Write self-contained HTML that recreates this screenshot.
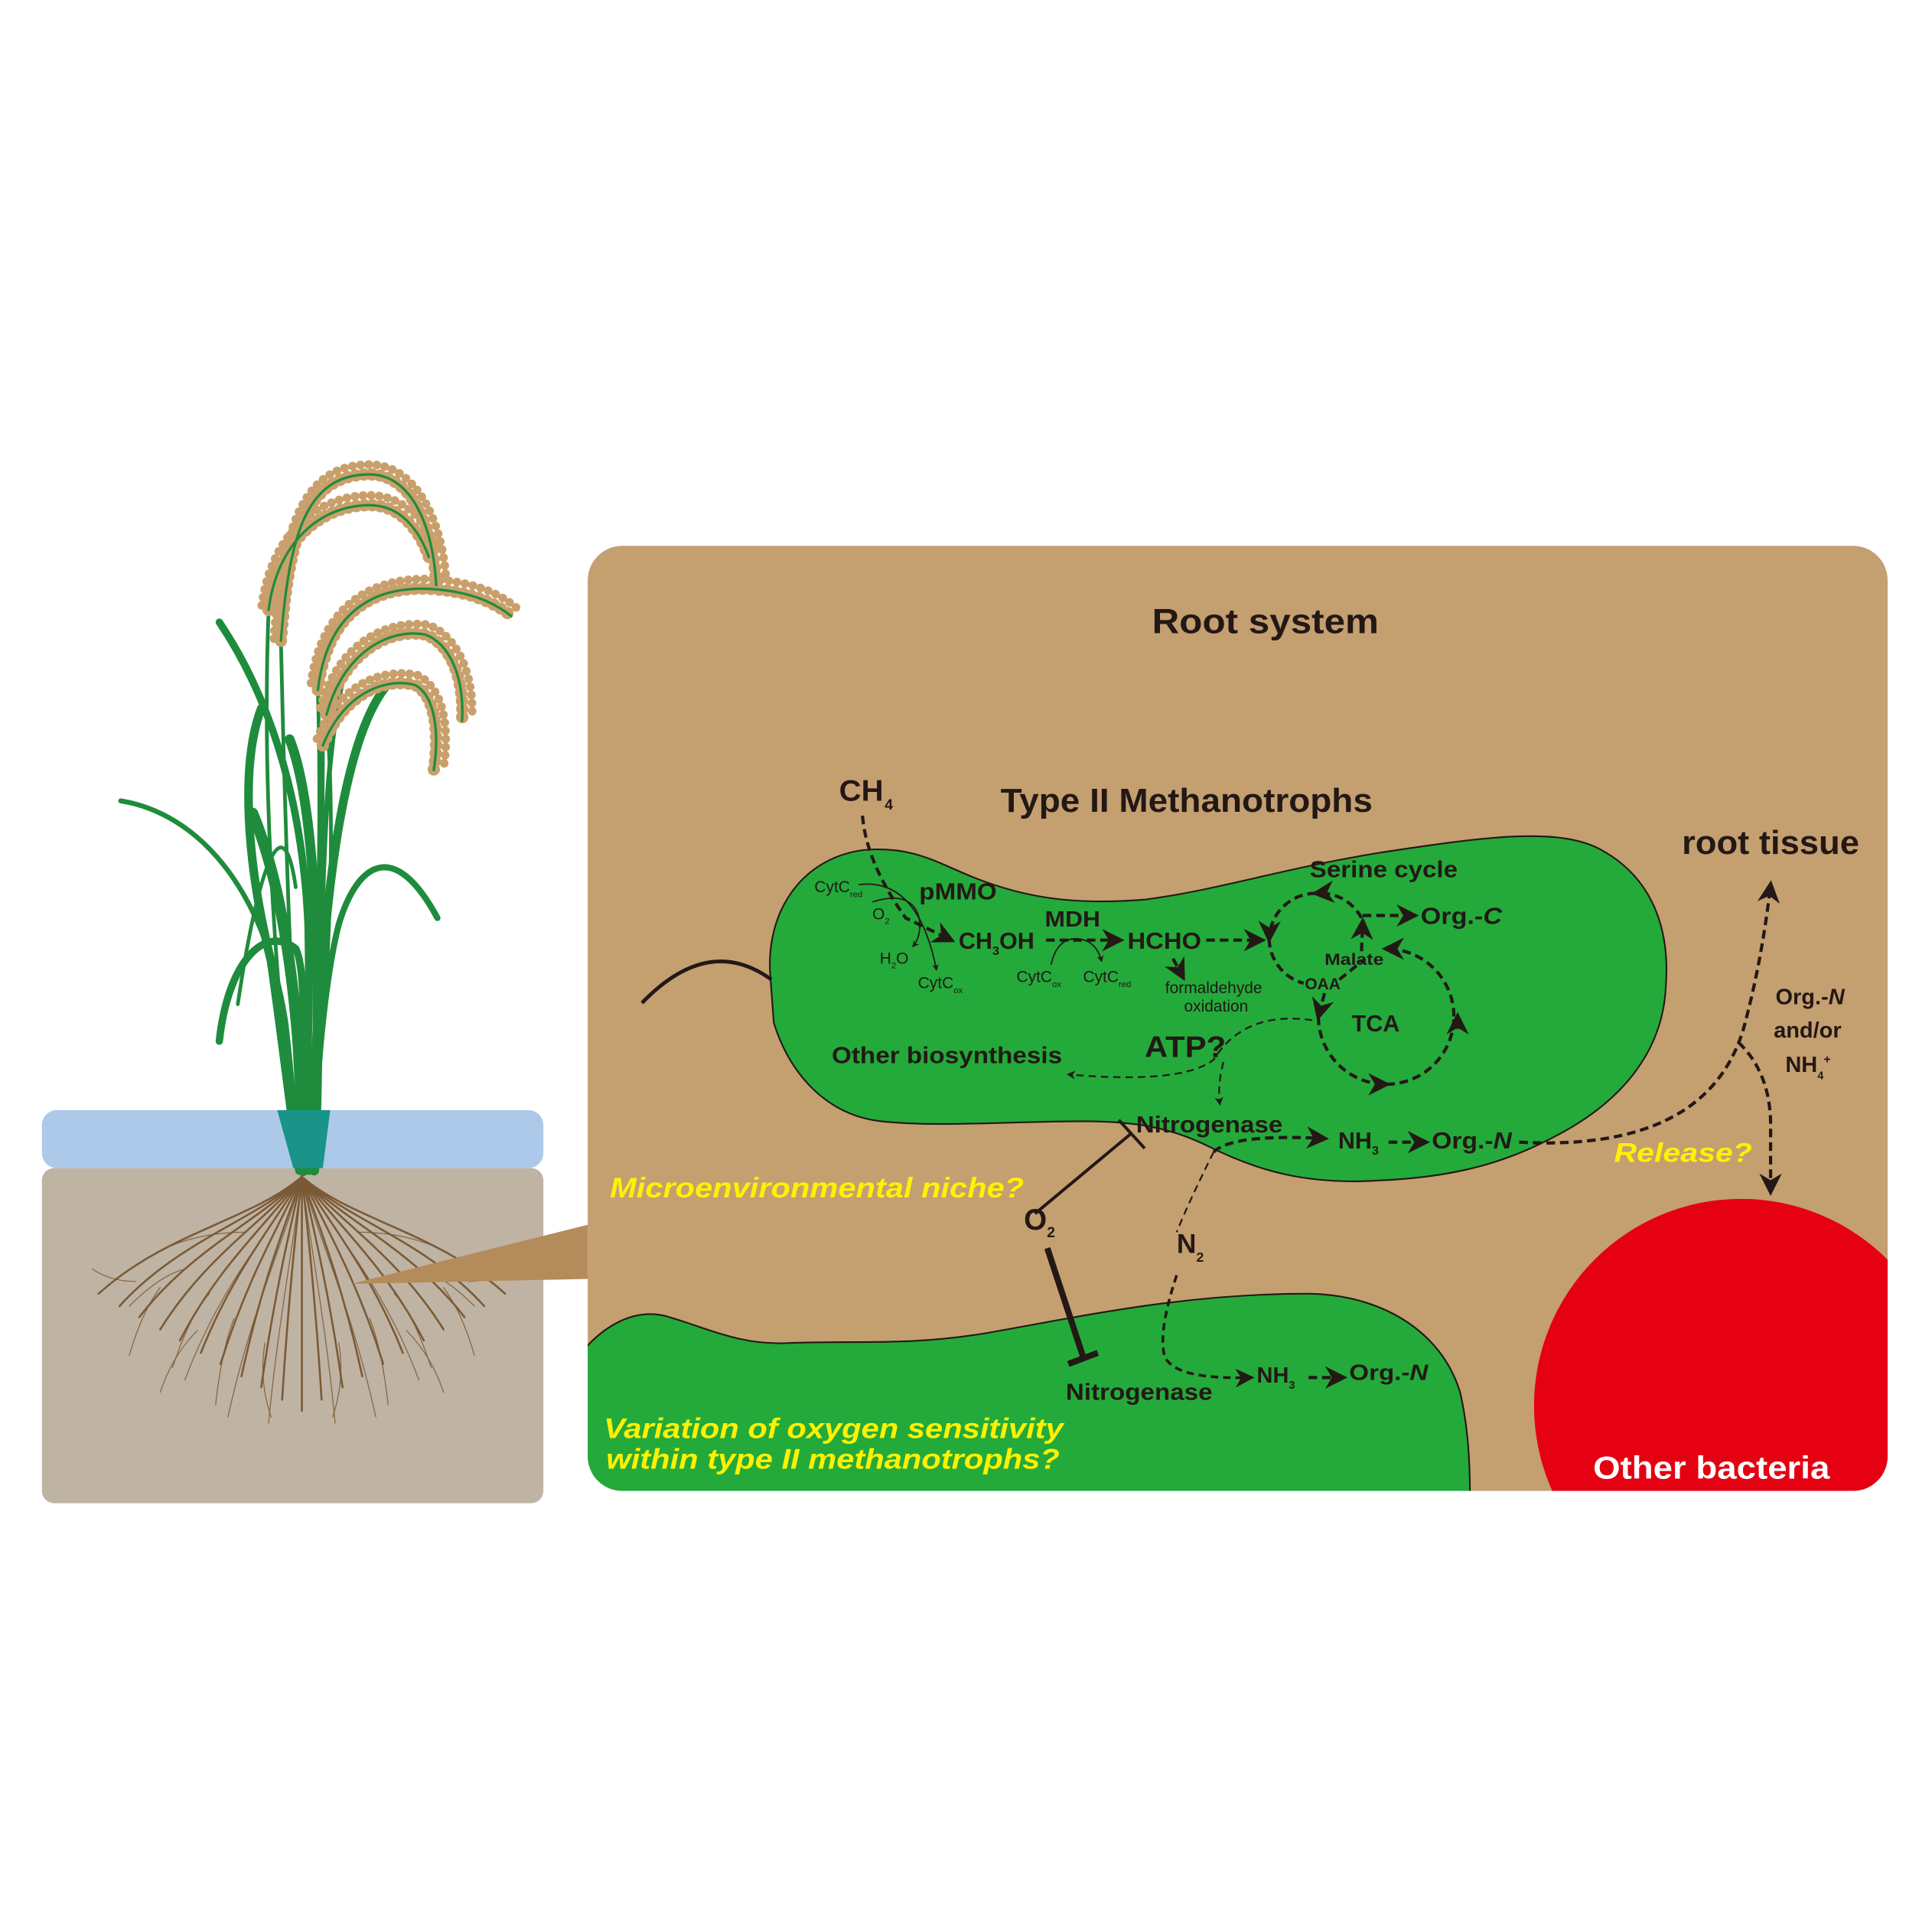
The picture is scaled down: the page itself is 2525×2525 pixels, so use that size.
<!DOCTYPE html>
<html><head><meta charset="utf-8"><style>
html,body{margin:0;padding:0;background:#fff;}
svg{display:block;}
text{font-family:"Liberation Sans",sans-serif;}
</style></head><body>
<svg width="2525" height="2525" viewBox="0 0 1568 1568" xmlns="http://www.w3.org/2000/svg">
<defs>
<marker id="ah" viewBox="0 0 10 10" refX="8" refY="5" markerWidth="5" markerHeight="5" orient="auto-start-reverse"><path d="M0,0 L10,5 L0,10 L3,5 z" fill="#231815"/></marker>
<marker id="ahs" viewBox="0 0 10 10" refX="8" refY="5" markerWidth="7" markerHeight="7" orient="auto"><path d="M0,0 L10,5 L0,10 L3,5 z" fill="#231815"/></marker>
<clipPath id="box"><rect x="477" y="443" width="1055" height="767" rx="28"/></clipPath>
</defs>

<rect x="34" y="948" width="407" height="272" rx="10" fill="#bfb3a4"/>
<rect x="34" y="901" width="407" height="47" rx="12" fill="#acc9ea"/>

<!-- roots -->
<g stroke="#7a5a35" fill="none" stroke-linecap="round" stroke-width="1.6">
<path d="M245,955 C205,990 135,1000 80,1050"/>
<path d="M245,955 C209,990 146,1006 97,1060"/>
<path d="M245,955 C213,990 157,1012 113,1069"/>
<path d="M245,955 C217,990 168,1018 130,1079"/>
<path d="M245,955 C221,990 179,1024 146,1088"/>
<path d="M245,955 C225,990 190,1030 163,1098"/>
<path d="M245,955 C229,990 201,1036 179,1107"/>
<path d="M245,955 C233,990 212,1042 196,1117"/>
<path d="M245,955 C237,990 223,1048 212,1126"/>
<path d="M245,955 C241,990 234,1054 229,1136"/>
<path d="M245,955 C245,990 245,1060 245,1145"/>
<path d="M245,955 C249,990 256,1054 261,1136"/>
<path d="M245,955 C253,990 267,1048 278,1126"/>
<path d="M245,955 C257,990 278,1042 294,1117"/>
<path d="M245,955 C261,990 289,1036 311,1107"/>
<path d="M245,955 C265,990 300,1030 327,1098"/>
<path d="M245,955 C269,990 311,1024 344,1088"/>
<path d="M245,955 C273,990 322,1018 360,1079"/>
<path d="M245,955 C277,990 333,1012 377,1069"/>
<path d="M245,955 C281,990 344,1006 393,1060"/>
<path d="M245,955 C285,990 355,1000 410,1050"/>
</g>
<g stroke="#7a5a35" fill="none" stroke-linecap="round" stroke-width="0.8" opacity="0.85">
<path d="M245,955 C220,1000 180,1040 150,1120"/>
<path d="M245,955 C230,1010 205,1060 185,1150"/>
<path d="M245,955 C238,1010 225,1080 218,1155"/>
<path d="M245,955 C252,1010 265,1080 272,1155"/>
<path d="M245,955 C260,1010 285,1060 305,1150"/>
<path d="M245,955 C270,1000 310,1040 340,1120"/>
<path d="M150,1030 q-20,5 -45,30"/><path d="M130,1045 q-15,20 -25,55"/>
<path d="M170,1050 q-15,15 -30,60"/><path d="M190,1070 q-10,25 -15,70"/>
<path d="M340,1030 q20,5 45,30"/><path d="M360,1045 q15,20 25,55"/>
<path d="M320,1050 q15,15 30,60"/><path d="M300,1070 q10,25 15,70"/>
<path d="M110,1040 q-20,0 -35,-10"/><path d="M380,1040 q20,0 35,-10"/>
<path d="M200,1000 q-40,0 -70,15"/><path d="M290,1000 q40,0 70,15"/>
<path d="M215,1090 q-5,30 5,60"/><path d="M275,1090 q5,30 -5,60"/>
<path d="M160,1080 q-20,20 -30,50"/><path d="M330,1080 q20,20 30,50"/>
</g>

<!-- plant -->
<g fill="none" stroke="#1e8c3c" stroke-linecap="round">
<path d="M228,520 C232,700 238,850 245,950" stroke-width="3"/>
<path d="M218,495 C212,650 225,820 242,950" stroke-width="3"/>
<path d="M258,560 C262,700 255,850 250,950" stroke-width="3"/>
<path d="M265,580 C275,700 262,850 252,950" stroke-width="3"/>
<path d="M262,605 C262,720 258,850 250,950" stroke-width="3"/>
<path d="M98,650 C160,660 215,720 232,830 C238,880 240,920 244,950" stroke-width="4"/>
<path d="M178,505 C215,560 245,640 250,750 C252,850 248,920 246,950" stroke-width="6"/>
<path d="M212,575 C195,620 200,700 220,780 C230,850 238,920 243,950" stroke-width="7"/>
<path d="M193,815 C210,700 230,650 240,720" stroke-width="3"/>
<path d="M178,845 C185,780 215,750 240,770 C250,790 245,860 244,950" stroke-width="6"/>
<path d="M355,745 C320,680 290,700 275,750 C262,800 258,880 250,950" stroke-width="5"/>
<path d="M315,555 C285,590 270,680 262,780 C258,860 254,920 251,950" stroke-width="7"/>
<path d="M280,545 C265,600 262,700 260,800 C258,880 255,930 252,950" stroke-width="4"/>
<path d="M205,660 C230,720 245,820 246,950" stroke-width="9"/>
<path d="M235,600 C255,650 262,780 255,950" stroke-width="8"/>
</g>
<g fill="none" stroke="#c9a06c" stroke-linecap="round" stroke-width="10" stroke-dasharray="0.1 6.5">
<path d="M228,520 C235,430 250,385 300,385 C335,385 352,430 354,475"/>
<path d="M218,495 C225,440 260,410 300,410 C328,410 342,435 348,452"/>
<path d="M258,560 C265,500 300,475 350,478 C380,480 400,488 415,500"/>
<path d="M265,580 C280,525 320,510 345,515 C365,522 377,550 375,585"/>
<path d="M262,605 C280,560 315,550 337,556 C355,566 356,600 352,625"/>
</g>
<g fill="none" stroke="#c9a06c" stroke-linecap="round" stroke-width="7" stroke-dasharray="0.1 6.5" stroke-dashoffset="3">
<path d="M222,522 C229,425 247,377 300,377 C340,377 360,428 362,472"/>
<path d="M212,495 C219,434 257,402 300,402 C332,402 350,430 356,450"/>
<path d="M252,558 C259,495 298,468 350,470 C382,472 404,480 420,494"/>
<path d="M259,578 C274,518 318,503 347,507 C371,515 385,548 383,583"/>
<path d="M256,603 C274,553 313,542 339,548 C363,560 364,598 360,623"/>
</g>
<g fill="none" stroke="#1e8c3c" stroke-linecap="round" stroke-width="2">
<path d="M228,520 C235,430 250,385 300,385 C335,385 352,430 354,475"/>
<path d="M218,495 C225,440 260,410 300,410 C328,410 342,435 348,452"/>
<path d="M258,560 C265,500 300,475 350,478 C380,480 400,488 415,500"/>
<path d="M265,580 C280,525 320,510 345,515 C365,522 377,550 375,585"/>
<path d="M262,605 C280,560 315,550 337,556 C355,566 356,600 352,625"/>
</g>
<path d="M225,901 L268,901 L262,948 L238,948 Z" fill="#1a9488"/>

<polygon points="285,1042 477,994 477,1038" fill="#b48b5a"/>

<rect x="477" y="443" width="1055" height="767" rx="28" fill="#c49f70"/>
<g clip-path="url(#box)">
<circle cx="1413" cy="1141" r="168" fill="#e50012"/>
<path d="M470,1100 C490,1075 515,1062 540,1068 C575,1078 600,1092 640,1090 C700,1088 740,1092 800,1082 C880,1068 960,1050 1060,1050 C1120,1050 1170,1080 1185,1130 C1192,1160 1193,1190 1193,1215 L470,1215 Z" fill="#23aa3b" stroke="#231815" stroke-width="1.3"/>
</g>

<path d="M625,790 C622,740 650,697 700,690 C740,686 760,700 790,712 C830,728 870,735 930,730 C990,722 1040,705 1120,692 C1200,680 1265,670 1300,690 C1345,715 1355,760 1352,800 C1350,850 1320,890 1270,918 C1230,940 1190,955 1120,958 C1060,962 1020,950 980,930 C950,915 920,910 880,910 C820,910 760,915 715,910 C670,905 640,870 628,830 Z" fill="#23aa3b" stroke="#231815" stroke-width="1.3"/>
<path d="M521,814 Q575,758 626,795" fill="none" stroke="#231815" stroke-width="3"/>

<g fill="#231815">
<text x="1027" y="514" font-size="28" font-weight="bold" text-anchor="middle" textLength="184" lengthAdjust="spacingAndGlyphs">Root system</text>
<text x="963" y="659" font-size="27" font-weight="bold" text-anchor="middle" textLength="302" lengthAdjust="spacingAndGlyphs">Type II Methanotrophs</text>
<text x="681" y="650" font-size="24" font-weight="bold" textLength="36" lengthAdjust="spacingAndGlyphs">CH</text><text x="718" y="657" font-size="12" font-weight="bold">4</text>
<text x="1437" y="693" font-size="27" font-weight="bold" text-anchor="middle" textLength="144" lengthAdjust="spacingAndGlyphs">root tissue</text>
<text x="1063" y="712" font-size="19" font-weight="bold" textLength="120" lengthAdjust="spacingAndGlyphs">Serine cycle</text>
<text x="1153" y="750" font-size="19" font-weight="bold" textLength="66" lengthAdjust="spacingAndGlyphs">Org.-<tspan font-style="italic">C</tspan></text>
<text x="746" y="730" font-size="19" font-weight="bold" textLength="63" lengthAdjust="spacingAndGlyphs">pMMO</text>
<text x="848" y="752" font-size="18" font-weight="bold" textLength="45" lengthAdjust="spacingAndGlyphs">MDH</text>
<text x="778" y="770" font-size="19" font-weight="bold">CH<tspan font-size="10" dy="5">3</tspan><tspan dy="-5">OH</tspan></text>
<text x="915" y="770" font-size="19" font-weight="bold" textLength="60" lengthAdjust="spacingAndGlyphs">HCHO</text>
<g font-size="13">
<text x="661" y="724">CytC<tspan font-size="7" dy="4">red</tspan></text>
<text x="708" y="746">O<tspan font-size="7" dy="4">2</tspan></text>
<text x="714" y="782">H<tspan font-size="7" dy="4">2</tspan><tspan dy="-4">O</tspan></text>
<text x="745" y="802">CytC<tspan font-size="7" dy="4">ox</tspan></text>
<text x="825" y="797">CytC<tspan font-size="7" dy="4">ox</tspan></text>
<text x="879" y="797">CytC<tspan font-size="7" dy="4">red</tspan></text>
<text x="985" y="806" text-anchor="middle">formaldehyde</text>
<text x="987" y="821" text-anchor="middle">oxidation</text>
</g>
<text x="1075" y="783" font-size="13" font-weight="bold" textLength="48" lengthAdjust="spacingAndGlyphs">Malate</text>
<text x="1059" y="803" font-size="13" font-weight="bold">OAA</text>
<text x="1097" y="837" font-size="19" font-weight="bold">TCA</text>
<text x="929" y="858" font-size="24" font-weight="bold" textLength="66" lengthAdjust="spacingAndGlyphs">ATP?</text>
<text x="675" y="863" font-size="19" font-weight="bold" textLength="187" lengthAdjust="spacingAndGlyphs">Other biosynthesis</text>
<text x="922" y="919" font-size="19" font-weight="bold" textLength="119" lengthAdjust="spacingAndGlyphs">Nitrogenase</text>
<text x="1086" y="932" font-size="19" font-weight="bold">NH<tspan font-size="10" dy="5">3</tspan></text>
<text x="1162" y="932" font-size="19" font-weight="bold" textLength="65" lengthAdjust="spacingAndGlyphs">Org.-<tspan font-style="italic">N</tspan></text>
<text x="1469" y="815" font-size="18" font-weight="bold" text-anchor="middle">Org.-<tspan font-style="italic">N</tspan></text>
<text x="1467" y="842" font-size="18" font-weight="bold" text-anchor="middle">and/or</text>
<text x="1449" y="870" font-size="18" font-weight="bold">NH<tspan font-size="9" dy="6">4</tspan><tspan font-size="10" dy="-13">+</tspan></text>
<text x="831" y="998" font-size="24" font-weight="bold">O<tspan font-size="12" dy="6">2</tspan></text>
<text x="955" y="1017" font-size="22" font-weight="bold">N<tspan font-size="11" dy="7">2</tspan></text>
<text x="865" y="1136" font-size="19" textLength="119" lengthAdjust="spacingAndGlyphs" font-weight="bold">Nitrogenase</text>
<text x="1020" y="1122" font-size="18" font-weight="bold">NH<tspan font-size="9" dy="5">3</tspan></text>
<text x="1095" y="1120" font-size="18" font-weight="bold" textLength="64" lengthAdjust="spacingAndGlyphs">Org.-<tspan font-style="italic">N</tspan></text>
</g>
<g fill="#fff100" font-weight="bold" font-style="italic">
<text x="1310" y="943" font-size="22" textLength="112" lengthAdjust="spacingAndGlyphs">Release?</text>
<text x="495" y="972" font-size="23" textLength="336" lengthAdjust="spacingAndGlyphs">Microenvironmental niche?</text>
<text x="490" y="1167" font-size="23" textLength="373" lengthAdjust="spacingAndGlyphs">Variation of oxygen sensitivity</text>
<text x="492" y="1192" font-size="23" textLength="368" lengthAdjust="spacingAndGlyphs">within type II methanotrophs?</text>
</g>
<text x="1389" y="1200" font-size="26" font-weight="bold" fill="#fff" text-anchor="middle" textLength="192" lengthAdjust="spacingAndGlyphs">Other bacteria</text>

<g fill="none" stroke="#231815" stroke-width="2.6" stroke-dasharray="7,4">
<path d="M700,662 Q703,700 735,745 L772,763" marker-end="url(#ahs)"/>
<path d="M849,763 L909,763" marker-end="url(#ahs)"/>
<path d="M979,763 L1024,763" marker-end="url(#ahs)"/>
<path d="M952,778 L960,793" marker-end="url(#ahs)"/>
<path d="M1106,743 L1148,743" marker-end="url(#ahs)"/>
<path d="M1105,745 A38,38 0 0,0 1068,725" marker-end="url(#ahs)"/>
<path d="M1068,725 A38,38 0 0,0 1030,762" marker-end="url(#ahs)"/>
<path d="M1030,762 A38,38 0 0,0 1058,798"/>
<path d="M1105,772 L1106,748" marker-end="url(#ahs)"/>
<path d="M1087,795 L1108,778"/>
<path d="M1075,806 L1070,825" marker-end="url(#ahs)"/>
<path d="M1070,825 A55,55 0 0,0 1125,880" marker-end="url(#ahs)"/>
<path d="M1125,880 A55,55 0 0,0 1180,825" />
<path d="M1183,835 L1183,825" marker-end="url(#ahs)"/>
<path d="M1180,825 A55,55 0 0,0 1125,770" marker-end="url(#ahs)"/>
<path d="M985,935 Q1000,920 1075,924" marker-end="url(#ahs)"/>
<path d="M1127,927 L1157,927" marker-end="url(#ahs)"/>
<path d="M1233,927 Q1385,935 1415,835 Q1430,780 1437,718" marker-end="url(#ahs)"/>
<path d="M1411,846 Q1436,870 1437,910 L1437,967" marker-end="url(#ahs)"/>
<path d="M1062,1118 L1090,1118" marker-end="url(#ahs)"/>
</g>
<g fill="none" stroke="#231815" stroke-width="1.4" stroke-dasharray="6,4">
<path d="M1065,828 Q1010,820 985,860 Q960,880 867,872" marker-end="url(#ah)"/>
<path d="M993,862 Q988,880 990,896" marker-end="url(#ah)"/>
<path d="M985,935 Q965,975 955,1000"/>
<path d="M955,1035 Q940,1080 945,1100 Q952,1120 1015,1118" stroke-width="2.2" marker-end="url(#ahs)"/>
</g>
<g fill="none" stroke="#231815" stroke-width="1.1">
<path d="M697,718 Q745,712 760,787" marker-end="url(#ah)"/>
<path d="M708,732 Q740,722 746,745 Q748,760 741,768" marker-end="url(#ah)"/>
<path d="M853,783 Q858,760 876,762 Q890,764 894,780" marker-end="url(#ah)"/>
</g>
<path d="M840,985 L918,920" stroke="#231815" stroke-width="2.5"/>
<path d="M908,909 L929,932" stroke="#231815" stroke-width="2.5"/>
<path d="M850,1013 L879,1101" stroke="#231815" stroke-width="5"/>
<path d="M867,1107 L891,1098" stroke="#231815" stroke-width="5"/>
</svg>
</body></html>
